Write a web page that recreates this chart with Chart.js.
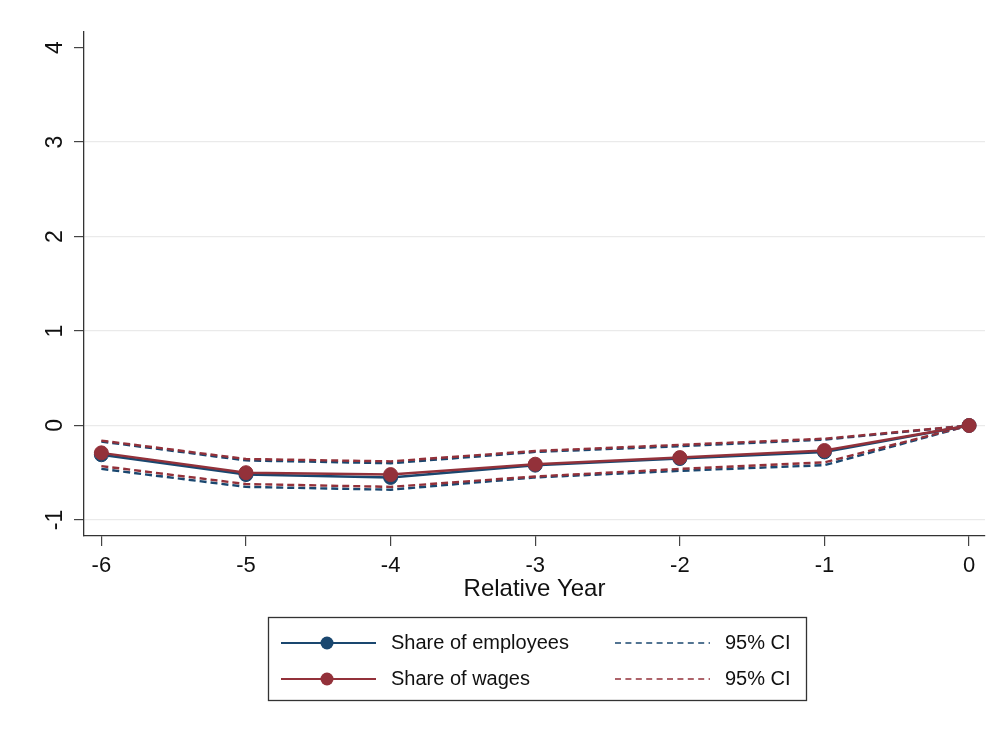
<!DOCTYPE html>
<html>
<head>
<meta charset="utf-8">
<title>Relative Year estimates</title>
<script src="https://cdn.jsdelivr.net/npm/chart.js@4.4.1/dist/chart.umd.min.js"></script>
<style>
  html, body { margin: 0; padding: 0; background: #ffffff; }
  #wrap { width: 993px; height: 729px; position: relative; }
</style>
</head>
<body>
<div id="wrap"><canvas id="chart"></canvas></div>
<script>
// Event-study coefficients by year relative to the event (year 0 = reference)
const relYears   = [-6, -5, -4, -3, -2, -1, 0];

const empShare   = [-0.31, -0.52, -0.55, -0.42, -0.35, -0.28, 0];
const empLow     = [-0.46, -0.65, -0.68, -0.55, -0.48, -0.42, 0];
const empHigh    = [-0.17, -0.37, -0.40, -0.28, -0.22, -0.15, 0];

const wageShare  = [-0.29, -0.50, -0.52, -0.41, -0.34, -0.265, 0];
const wageLow    = [-0.43, -0.62, -0.65, -0.54, -0.46, -0.39, 0];
const wageHigh   = [-0.16, -0.355, -0.38, -0.27, -0.205, -0.14, 0];

const xTickValues = [-6, -5, -4, -3, -2, -1, 0];
const yTickValues = [-1, 0, 1, 2, 3, 4];

const NAVY = '#1a476f';
const MAROON = '#93313a';
const FONT = '"Liberation Sans", Arial, Helvetica, sans-serif';
const TEXT = '#111111';

const pts = ys => relYears.map((x, i) => ({ x: x, y: ys[i] }));

const mainLine = (label, ys, color, order) => ({
  label, data: pts(ys), borderColor: color, backgroundColor: color,
  borderWidth: 2.5, pointRadius: 7, pointHoverRadius: 7,
  pointBorderColor: color, pointBackgroundColor: color, pointBorderWidth: 1,
  tension: 0, order
});
const ciLine = (label, ys, color, order) => ({
  label, data: pts(ys), borderColor: color, backgroundColor: color,
  borderWidth: 2.4, borderDash: [7, 4], pointRadius: 0, pointHoverRadius: 0,
  tension: 0, order
});

const datasets = [
  mainLine('Share of employees', empShare, NAVY, 1),
  ciLine('95% CI', empLow, NAVY, 3),
  ciLine('95% CI', empHigh, NAVY, 3),
  mainLine('Share of wages', wageShare, MAROON, 0),
  ciLine('95% CI', wageLow, MAROON, 2),
  ciLine('95% CI', wageHigh, MAROON, 2)
];

// Each legend row: [point-estimate dataset, confidence-band dataset]
const legendRows = [[0, 1], [3, 4]];

const boxLegend = {
  id: 'boxLegend',
  afterDraw(chart) {
    const ctx = chart.ctx;
    const box = { left: 268.5, top: 617.5, width: 538, height: 83 };
    const rowY = [643, 679];
    ctx.save();
    ctx.strokeStyle = '#333333';
    ctx.lineWidth = 1.3;
    ctx.strokeRect(box.left, box.top, box.width, box.height);
    ctx.font = '20px ' + FONT;
    ctx.textBaseline = 'middle';
    ctx.textAlign = 'left';
    legendRows.forEach((row, r) => {
      const y = rowY[r];
      const main = chart.data.datasets[row[0]];
      const ci = chart.data.datasets[row[1]];
      // solid line with marker
      ctx.setLineDash([]);
      ctx.strokeStyle = main.borderColor;
      ctx.lineWidth = 2;
      ctx.beginPath(); ctx.moveTo(281, y); ctx.lineTo(376, y); ctx.stroke();
      ctx.fillStyle = main.pointBackgroundColor;
      ctx.beginPath(); ctx.arc(327, y, 6.5, 0, Math.PI * 2); ctx.fill();
      ctx.fillStyle = TEXT;
      ctx.fillText(main.label, 391, y);
      // dashed confidence-band sample
      ctx.setLineDash([6, 4.4]);
      ctx.strokeStyle = ci.borderColor;
      ctx.lineWidth = 1.6;
      ctx.beginPath(); ctx.moveTo(615, y); ctx.lineTo(710, y); ctx.stroke();
      ctx.setLineDash([]);
      ctx.fillStyle = TEXT;
      ctx.fillText(ci.label, 725, y);
    });
    ctx.restore();
  }
};

new Chart(document.getElementById('chart'), {
  type: 'line',
  data: { datasets },
  options: {
    responsive: true,
    maintainAspectRatio: false,
    animation: false,
    layout: { padding: { left: 0, top: 32, right: 6, bottom: 125 } },
    plugins: { legend: { display: false }, tooltip: { enabled: false } },
    scales: {
      x: {
        type: 'linear',
        min: -6.12,
        max: 0.11,
        afterBuildTicks: s => { s.ticks = xTickValues.map(v => ({ value: v })); },
        afterFit: s => { s.height = 68; },
        grid: { drawOnChartArea: false, drawTicks: true, tickLength: 10, tickColor: '#444444', color: '#444444', lineWidth: 1.2 },
        border: { display: true, color: '#333333', width: 1.3 },
        ticks: { padding: 7, autoSkip: false, maxRotation: 0, color: TEXT, font: { family: FONT, size: 22 } },
        title: { display: true, text: 'Relative Year', color: TEXT, font: { family: FONT, size: 24 }, padding: { top: 0, bottom: 0 } }
      },
      y: {
        type: 'linear',
        min: -1.17,
        max: 4.165,
        afterBuildTicks: s => { s.ticks = yTickValues.map(v => ({ value: v })); },
        afterFit: s => { s.width = 84; },
        grid: {
          color: c => (c.tick && c.tick.value === 4) ? 'rgba(0,0,0,0)' : '#eaeaea',
          tickColor: '#444444', tickLength: 10, lineWidth: 1.2, drawTicks: true
        },
        border: { display: true, color: '#333333', width: 1.3 },
        ticks: { minRotation: 90, maxRotation: 90, crossAlign: 'center', padding: 8, autoSkip: false, color: TEXT, font: { family: FONT, size: 23 } }
      }
    }
  },
  plugins: [boxLegend]
});
</script>
</body>
</html>
